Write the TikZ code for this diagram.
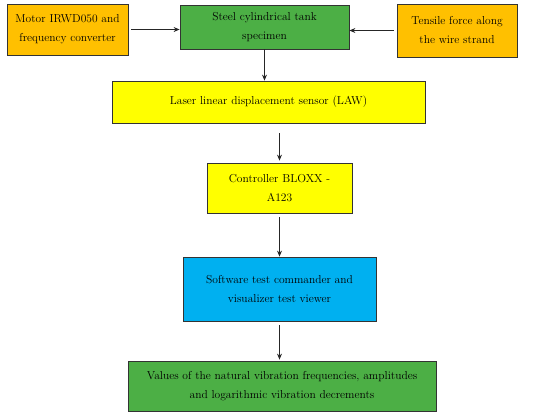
\documentclass[tikz,border=0pt]{standalone}
\usetikzlibrary{arrows.meta}
\definecolor{borange}{HTML}{FFC000}
\definecolor{bgreen}{HTML}{4CAF45}
\definecolor{byellow}{HTML}{FFFF00}
\definecolor{bblue}{HTML}{00B0F0}
\tikzset{
  box/.style={draw=black!80, line width=0.8pt, align=center, inner sep=2pt,
    font=\fontsize{11.5}{19}\selectfont, text=black},
  arr/.style={draw=black!85, line width=0.8pt, -{Stealth[length=6pt,width=5pt]}}
}
\begin{document}
\begin{tikzpicture}[x=1pt,y=-1pt]
\useasboundingbox (0,0) rectangle (550,416);
\node[box, fill=borange, minimum width=121pt, minimum height=51pt] (motor) at (67.5,29.5) {Motor IRWD050 and\\frequency converter};
\node[box, fill=bgreen, minimum width=169pt, minimum height=44pt] (tank) at (264.5,27) {Steel cylindrical tank\\specimen};
\node[box, fill=borange, minimum width=120pt, minimum height=53pt] (tensile) at (457,30.5) {Tensile force along\\the wire strand};
\node[box, fill=byellow, minimum width=313pt, minimum height=42pt] (law) at (268.5,102) {Laser linear displacement sensor (LAW)};
\node[box, fill=byellow, minimum width=145pt, minimum height=50pt] (ctrl) at (279.5,188) {Controller BLOXX -\\A123};
\node[box, fill=bblue, minimum width=193pt, minimum height=64pt] (soft) at (279.5,289) {Software test commander and\\visualizer test viewer};
\node[box, fill=bgreen, minimum width=308pt, minimum height=50pt] (vals) at (282,386) {Values of the natural vibration frequencies, amplitudes\\and logarithmic vibration decrements};
\draw[arr, shorten <=3pt] (motor.east) -- (motor.east -| tank.west);
\draw[arr, shorten <=3pt] (tensile.west) -- (tensile.west -| tank.east);
\draw[arr] (tank.south) -- (tank.south |- law.north);
\draw[arr, shorten <=10pt, shorten >=2pt] (ctrl.north |- law.south) -- (ctrl.north);
\draw[arr, shorten <=4pt] (ctrl.south) -- (soft.north);
\draw[arr, shorten <=4pt, shorten >=1pt] (soft.south) -- (vals.north -| soft.south);
\end{tikzpicture}
\end{document}
